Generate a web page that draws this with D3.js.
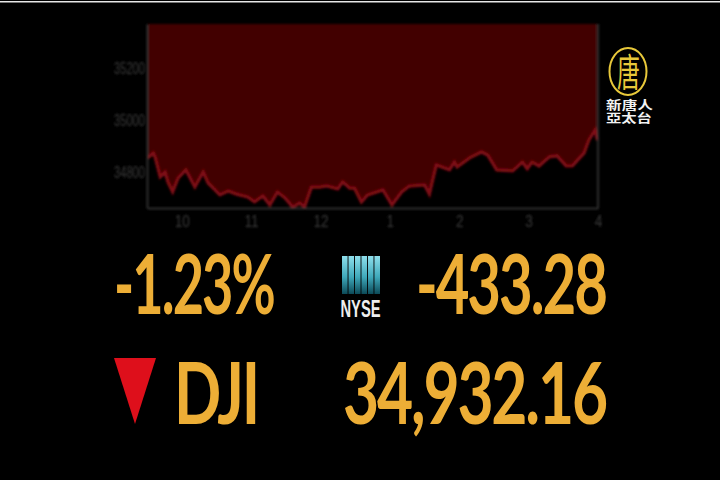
<!DOCTYPE html>
<html lang="en">
<head>
    <meta charset="UTF-8">
    <title>DJI intraday</title>
    <script src="https://d3js.org/d3.v7.min.js"></script>
    <style>
        html, body { margin: 0; padding: 0; background: #000; overflow: hidden; }
        svg { display: block; }
        .tick text { font-family: "Liberation Sans Narrow", "Liberation Sans", sans-serif; font-size: 17px; fill: #3a3a3a; }
        .big { font-family: Lato, sans-serif; font-weight: 700; fill: #edae36; letter-spacing: -0.035em; }
        .cjk { font-family: "Noto Sans CJK TC", sans-serif; }
    </style>
</head>
<body>
    <svg id="chart" width="720" height="480"></svg>

    <script>
        // values, hours on a 12h clock run on to 16 = 4pm
        const hours = [9.51, 9.59, 9.62, 9.69, 9.76, 9.80, 9.87, 9.95, 10.06, 10.19, 10.31, 10.38, 10.48, 10.55, 10.67, 10.79, 10.95, 11.05, 11.17, 11.27, 11.38, 11.49, 11.60, 11.70, 11.77, 11.87, 11.99, 12.09, 12.25, 12.32, 12.42, 12.49, 12.59, 12.68, 12.90, 13.03, 13.17, 13.28, 13.50, 13.57, 13.67, 13.86, 13.93, 13.97, 14.15, 14.32, 14.41, 14.54, 14.77, 14.91, 14.98, 15.05, 15.15, 15.30, 15.41, 15.54, 15.63, 15.80, 15.87, 15.96, 15.99];
        const prices = [34854, 34873, 34854, 34781, 34800, 34762, 34723, 34777, 34808, 34742, 34800, 34758, 34731, 34712, 34727, 34715, 34704, 34685, 34708, 34673, 34723, 34700, 34665, 34681, 34665, 34742, 34742, 34746, 34735, 34762, 34738, 34738, 34685, 34712, 34731, 34673, 34723, 34746, 34750, 34715, 34827, 34808, 34838, 34819, 34854, 34877, 34865, 34808, 34804, 34838, 34812, 34838, 34823, 34858, 34862, 34823, 34823, 34873, 34923, 34962, 34923];
        const hourTicks = [10, 11, 12, 13, 14, 15, 16];
        const hourLabels = ["10", "11", "12", "1", "2", "3", "4"];
        const priceTicks = [34800, 35000, 35200];

        const plotLeft = 147, plotRight = 598, plotTop = 24, plotBottom = 208;

        const svg = d3.select("#chart");
        const defs = svg.append("defs");

        defs.append("filter").attr("id", "soft")
            .append("feGaussianBlur").attr("stdDeviation", 0.8);

        const barGrad = defs.append("linearGradient").attr("id", "nyse")
            .attr("x1", 0).attr("y1", 0).attr("x2", 0).attr("y2", 1);
        barGrad.append("stop").attr("offset", "0%").attr("stop-color", "#8fdfec");
        barGrad.append("stop").attr("offset", "55%").attr("stop-color", "#3fa9bb");
        barGrad.append("stop").attr("offset", "100%").attr("stop-color", "#0c4a58");

        // squeeze a text to a given width, anchored at its left end
        function fitText(sel, px, py, w) {
            const natural = sel.node().getComputedTextLength();
            sel.attr("transform", `translate(${px},${py}) scale(${w / natural},1)`);
        }

        // thin white line along the very top of the frame
        svg.append("rect").attr("x", 0).attr("y", 1).attr("width", 720).attr("height", 1.5).attr("fill", "#e8e8e8");

        const x = d3.scaleLinear().domain([9.5, 16]).range([plotLeft, plotRight]);
        const y = d3.scaleLinear().domain([34662, 35369]).range([plotBottom, plotTop]);
        const series = hours.map((h, i) => ({ h: h, p: prices[i] }));

        const area = d3.area().x(d => x(d.h)).y0(plotTop).y1(d => y(d.p));
        const line = d3.line().x(d => x(d.h)).y(d => y(d.p));

        const plot = svg.append("g").attr("filter", "url(#soft)");

        plot.append("path").datum(series).attr("d", area).attr("fill", "#420000");
        plot.append("path").datum(series).attr("d", line)
            .attr("fill", "none").attr("stroke", "#820c16").attr("stroke-width", 3);

        // axes, tick labels squeezed to the narrow look of the original
        const yAxis = plot.append("g").attr("transform", `translate(${plotLeft},0)`)
            .call(d3.axisLeft(y).tickValues(priceTicks).tickFormat(d3.format("d")).tickSize(0).tickPadding(2));
        yAxis.selectAll("text").attr("text-anchor", "start").each(function () {
            const t = d3.select(this);
            fitText(t, -33, 0, 31);
            t.attr("x", null);
        });

        const xAxis = plot.append("g").attr("transform", `translate(0,${plotBottom})`)
            .call(d3.axisBottom(x).tickValues(hourTicks).tickFormat((d, i) => hourLabels[i]).tickSize(0).tickPadding(7));
        xAxis.selectAll("text").attr("transform", "scale(0.8,1)");

        svg.selectAll(".domain").attr("stroke", "#3a3a3a").attr("stroke-width", 1.5);
        plot.append("line").attr("x1", x(16)).attr("x2", x(16)).attr("y1", plotTop).attr("y2", plotBottom)
            .attr("stroke", "#3a3a3a").attr("stroke-width", 1.5);

        // big read-outs
        const bigText = [
            { t: "-1.23%", x: 114, y: 314, w: 160, size: 83 },
            { t: "-433.28", x: 416, y: 314, w: 190, size: 83 },
            { t: "DJI", x: 174, y: 424, w: 84, size: 87 },
            { t: "34,932.16", x: 343, y: 424, w: 263, size: 87 }
        ];
        svg.selectAll("text.big").data(bigText).enter().append("text")
            .attr("class", "big")
            .attr("font-size", d => d.size)
            .text(d => d.t)
            .each(function (d) { fitText(d3.select(this), d.x, d.y, d.w); });

        // down arrow
        svg.append("path").attr("d", "M114,358L156,358L135,424Z").attr("fill", "#de0f1b");

        // NYSE mark
        const bars = d3.range(6);
        const barX = d3.scaleBand().domain(bars).range([342, 380]).paddingInner(0.14);
        svg.selectAll("rect.nyse").data(bars).enter().append("rect")
            .attr("class", "nyse")
            .attr("x", d => barX(d)).attr("y", 256)
            .attr("width", barX.bandwidth()).attr("height", 38)
            .attr("fill", "url(#nyse)");
        svg.append("text")
            .attr("font-family", "'Liberation Sans Narrow', sans-serif").attr("font-weight", 700)
            .attr("font-size", 24).attr("fill", "#eeeeee")
            .text("NYSE")
            .call(fitText, 340.5, 316.5, 40);

        // station logo
        const logo = svg.append("g");
        logo.append("ellipse").attr("cx", 628).attr("cy", 71.5).attr("rx", 18.5).attr("ry", 23.5)
            .attr("fill", "none").attr("stroke", "#e8c83a").attr("stroke-width", 2);
        logo.append("text").attr("class", "cjk").attr("font-size", 38).attr("fill", "#e8c83a")
            .text("唐")
            .call(fitText, 617, 86, 23);
        logo.append("text").attr("class", "cjk").attr("font-weight", 700).attr("font-size", 12).attr("fill", "#f2f2f2")
            .text("新唐人")
            .call(fitText, 606, 109.5, 47);
        logo.append("text").attr("class", "cjk").attr("font-weight", 700).attr("font-size", 12).attr("fill", "#f2f2f2")
            .text("亞太台")
            .call(fitText, 606, 123, 46);
    </script>
</body>
</html>
